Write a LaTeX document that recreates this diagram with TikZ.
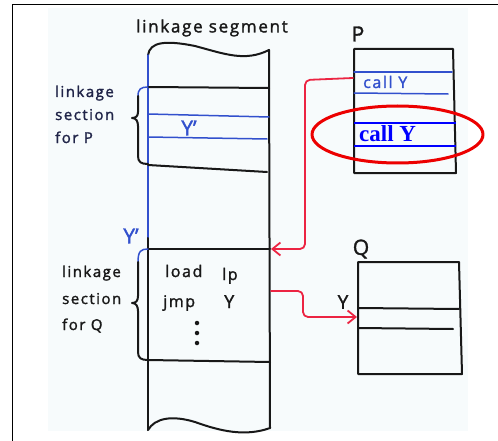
\documentclass[tikz,border=0pt]{standalone}
\usepackage{fontspec}
\setmainfont{Open Sans}[FakeBold=1.6]
\newfontfamily\handfont{Open Sans}[LetterSpace=10, FakeBold=1.6]
\newfontfamily\printfont{Liberation Serif}
\usetikzlibrary{arrows.meta}

\definecolor{ink}{RGB}{24,24,24}
\definecolor{navyink}{RGB}{32,36,72}
\definecolor{penblue}{RGB}{50,80,205}
\definecolor{penred}{RGB}{236,36,66}
\definecolor{paper}{RGB}{247,251,252}
\definecolor{pureblue}{RGB}{0,0,255}
\definecolor{markred}{RGB}{236,0,0}

\begin{document}
\begin{tikzpicture}[x=1pt, y=-1pt, line cap=round, line join=round,
  inkline/.style={draw=ink, line width=2pt},
  blueline/.style={draw=penblue, line width=1.5pt},
  redlink/.style={draw=penred, line width=1.8pt, rounded corners=5pt,
    -{Straight Barb[length=8pt, width=13pt, line width=1.8pt]}},
  hand/.style={inner sep=0pt, text=ink, font=\handfont\fontsize{15}{15}\selectfont},
  bighand/.style={hand, font=\handfont\fontsize{17}{17}\selectfont},
  capshand/.style={hand, font=\fontsize{21}{21}\selectfont},
  bluehand/.style={hand, text=penblue},
  dot/.style={circle, fill=ink, inner sep=0pt, minimum size=4.5pt}]

\useasboundingbox (0,0) rectangle (498,441);

% sheet and frame
\fill[paper] (48,8) rectangle (468,431);
\draw[line width=1.5pt, line cap=butt] (12.5,441) -- (12.5,4.5) -- (498,4.5);

% ---------------- linkage segment column ----------------
\draw[inkline] (148,55) .. controls (150,42) and (165,40) .. (195,46)
               .. controls (225,54) and (245,62) .. (269,50);
\draw[blueline] (148,55) -- (148,238);
\draw[inkline] (148,238) -- (148,430);
\draw[inkline] (269,50) -- (270,428);
\draw[inkline] (148,430) .. controls (155,418) and (172,415) .. (195,422)
               .. controls (220,431) and (245,437) .. (270,428);

% rows
\draw[inkline] (148,87) -- (269,88);
\draw[blueline] (148,114) -- (269,117);
\draw[blueline] (148,137) -- (267,139);
\draw[inkline] (148,165) -- (267,172);
\draw[inkline] (148,249) -- (270,249);
\draw[inkline] (148,360) -- (270,362);

% braces
\draw[blueline] (148,87) .. controls (141,87) and (138,89) .. (138,96);
\draw[inkline] (138,96) -- (138,112) .. controls (138,116) and (136,118) .. (132,118)
               .. controls (136,118) and (138,121) .. (138,126) -- (138,156)
               .. controls (138,162) and (141,164) .. (148,164);
\draw[blueline] (148,249) .. controls (141,249) and (138,251) .. (138,262);
\draw[inkline] (138,262) -- (138,296) .. controls (138,301) and (136,303) .. (132,303)
               .. controls (136,303) and (138,306) .. (138,311) -- (138,352)
               .. controls (138,358) and (141,360) .. (148,360);

% labels of the column
\node[bighand] (segtitle) at (212,28) {linkage segment};
\node[hand, anchor=base west, text=navyink] (lkP1) at (55,97) {linkage};
\node[hand, anchor=base west, text=navyink] (lkP2) at (55,120) {section};
\node[hand, anchor=base west, text=navyink] (lkP3) at (55,143) {for P};
\node[hand, anchor=base west] (lkQ1) at (62,277) {linkage};
\node[hand, anchor=base west] (lkQ2) at (62,304) {section};
\node[hand, anchor=base west] (lkQ3) at (62,330) {for Q};
\node[capshand, text=penblue] (yprimeP) at (189,128) {Y’};
\node[capshand, text=penblue] (yprimeQ) at (131,236) {Y’};

% code of the Q section
\node[hand, font=\handfont\fontsize{16}{16}\selectfont, anchor=base west] (load) at (165,277) {load};
\node[hand, font=\handfont\fontsize{16}{16}\selectfont, anchor=base west] (lp) at (222,280) {lp};
\node[hand, font=\handfont\fontsize{16}{16}\selectfont, anchor=base west] (jmp) at (163,307) {jmp};
\node[hand, font=\fontsize{18}{18}\selectfont, anchor=base west] (jmpY) at (224,308) {Y};
\node[dot] (d1) at (197,323) {};
\node[dot] (d2) at (197,333) {};
\node[dot] (d3) at (197,343) {};

% ---------------- procedure P ----------------
\node[capshand] (Plabel) at (358,34) {P};
\draw[inkline] (354,49) -- (453,49) -- (456,173) -- (354,173) -- cycle;
\draw[blueline] (354,72) -- (452,72);
\draw[blueline] (354,93) -- (448,94);
\node[bluehand, font=\handfont\fontsize{16}{16}\selectfont, anchor=base west] (pcall) at (363,88) {call Y};
\draw[pureblue, line width=2.7pt, line cap=butt] (354,123) -- (456,123);
\draw[pureblue, line width=2.7pt, line cap=butt] (354,146) -- (456,146);
\node[inner sep=0pt, anchor=base west, text=pureblue,
      font=\printfont\bfseries\fontsize{23}{23}\selectfont] (pcallbold) at (359,142) {call Y};
\draw[markred, line width=3pt] (397.5,134.5) ellipse [x radius=85.5pt, y radius=28.5pt];

% ---------------- procedure Q ----------------
\node[capshand] (Qlabel) at (361,249) {Q};
\draw[inkline] (358,262) -- (459,262) -- (462,374) -- (358,374) -- cycle;
\draw[inkline] (358,308) -- (459,309);
\draw[inkline] (358,328) -- (453,329);
\node[capshand, font=\fontsize{19}{19}\selectfont] (Ylabel) at (343,302) {Y};

% ---------------- red links ----------------
\coordinate (Pcallport) at (353,78);
\coordinate (QsecTop) at (271,249);
\coordinate (jmpport) at (271,291);
\coordinate (Yentry) at (357,317);
\draw[redlink] (Pcallport) -- (305,80) -- (305,249) -- (QsecTop);
\draw[redlink] (jmpport) -- (303,291) -- (303,317) -- (Yentry);

\end{tikzpicture}
\end{document}
